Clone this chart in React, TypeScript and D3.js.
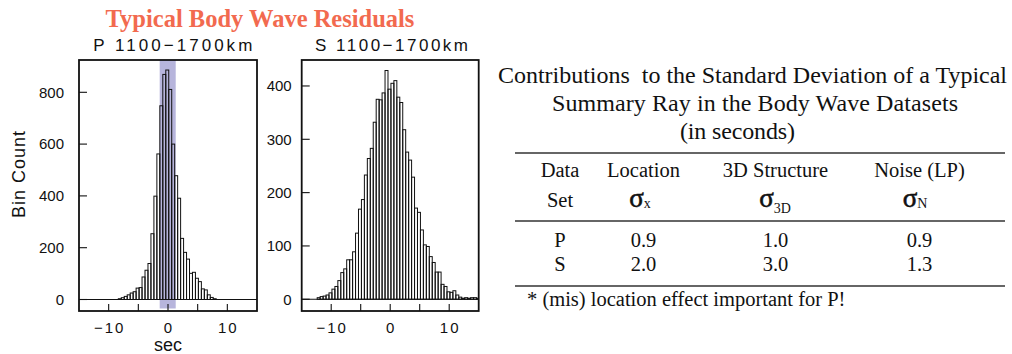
import React from "react";
import * as d3 from "d3";

// Histogram bins: 0.5 s wide, counts listed from the first bin's left edge
const BIN_WIDTH = 0.5;
const P_BIN_START = -8.375;
const P_COUNTS = [
  3, 7, 12, 18, 25, 30, 44, 46, 87, 113, 139, 254, 399, 562, 748, 869, 886,
  811, 600, 478, 391, 236, 182, 156, 101, 105, 82, 69, 41, 37, 18, 8, 3,
];
const S_BIN_START = -12.375;
const S_COUNTS = [
  3, 5, 6, 8, 12, 19, 24, 35, 50, 57, 74, 74, 89, 124, 169, 187, 233, 264, 283,
  332, 375, 374, 387, 429, 394, 405, 410, 379, 369, 318, 276, 261, 229, 171,
  163, 130, 102, 99, 80, 69, 51, 51, 28, 24, 14, 13, 16, 8, 4, 2, 3, 2, 3, 3, 2,
];
// mislocation band shaded on the P histogram (seconds)
const P_SHADE = [-1.4, 1.3];

const X_DOMAIN = [-15, 15];
const X_TICKS = [-10, -5, 0, 5, 10];
const X_TICK_LABELS = [-10, 0, 10];
const P_Y_TICKS = [0, 200, 400, 600, 800];
const S_Y_TICKS = [0, 100, 200, 300, 400];

// Table of standard-deviation contributions (seconds)
const TABLE_TITLE = [
  "Contributions  to the Standard Deviation of a Typical",
  "Summary Ray in the Body Wave Datasets",
  "(in seconds)",
];
const COLUMN_HEADS = ["Data", "Location", "3D Structure", "Noise (LP)"];
const SIGMA_SUBSCRIPTS = ["x", "3D", "N"];
const DATA_SETS = ["P", "S"];
const LOCATION = [0.9, 2.0];
const STRUCTURE_3D = [1.0, 3.0];
const NOISE_LP = [0.9, 1.3];
const FOOTNOTE = "* (mis) location effect important for P!";

const SANS = "'Liberation Sans', Arial, Helvetica, sans-serif";
const SERIF = "'Liberation Serif', 'Times New Roman', Times, serif";
const INK = "#111";

type HistProps = {
  id: string;
  left: number;
  right: number;
  top: number;
  bottom: number;
  yDomain: [number, number];
  counts: number[];
  binStart: number;
  yTicks: number[];
  labelGap: number;
  title: string;
  titleX: number;
  titleLen: number;
  shade?: number[];
  xTitle?: string;
  yTitle?: string;
};

function Histogram(p: HistProps) {
  const x = d3.scaleLinear().domain(X_DOMAIN).range([p.left, p.right]);
  const y = d3.scaleLinear().domain(p.yDomain).range([p.bottom, p.top]);
  const clip = `clip-${p.id}`;
  const bins = p.counts.map((c, i) => {
    const x0 = p.binStart + i * BIN_WIDTH;
    return { x0, x1: x0 + BIN_WIDTH, c };
  });
  const midX = (p.left + p.right) / 2;
  return (
    <g>
      <defs>
        <clipPath id={clip}>
          <rect x={p.left} y={p.top} width={p.right - p.left} height={p.bottom - p.top} />
        </clipPath>
      </defs>
      <text
        x={p.titleX}
        y={50.5}
        fontFamily={SANS}
        fontSize={17}
        fill={INK}
        textLength={p.titleLen}
        lengthAdjust="spacing"
      >
        {p.title}
      </text>
      <g clipPath={`url(#${clip})`}>
        {p.shade && (
          <rect
            x={x(p.shade[0])}
            y={p.top}
            width={x(p.shade[1]) - x(p.shade[0])}
            height={p.bottom - p.top - 2.5}
            fill="#b7b5dc"
          />
        )}
        <line x1={x(X_DOMAIN[0])} x2={x(X_DOMAIN[1])} y1={y(0)} y2={y(0)} stroke={INK} strokeWidth={1.1} />
        {bins.map((b, i) => (
          <rect
            key={i}
            x={x(b.x0)}
            y={y(b.c)}
            width={x(b.x1) - x(b.x0)}
            height={y(0) - y(b.c)}
            fill="none"
            stroke={INK}
            strokeWidth={1}
          />
        ))}
      </g>
      {X_TICKS.map((t) => (
        <line key={t} x1={x(t)} x2={x(t)} y1={p.bottom} y2={p.bottom - 7} stroke={INK} strokeWidth={1.1} />
      ))}
      {X_TICK_LABELS.map((t) => (
        <text
          key={t}
          x={x(t) + 1}
          y={332.5}
          textAnchor="middle"
          fontFamily={SANS}
          fontSize={15}
          letterSpacing={2}
          fill={INK}
        >
          {t < 0 ? `\u2212${Math.abs(t)}` : String(t)}
        </text>
      ))}
      {p.yTicks.map((t) => (
        <g key={t}>
          <line x1={p.left} x2={p.left + 8} y1={y(t)} y2={y(t)} stroke={INK} strokeWidth={1.1} />
          <text
            x={p.left - p.labelGap}
            y={y(t)}
            dy="0.36em"
            textAnchor="end"
            fontFamily={SANS}
            fontSize={15}
            fill={INK}
          >
            {t}
          </text>
        </g>
      ))}
      <rect
        x={p.left}
        y={p.top}
        width={p.right - p.left}
        height={p.bottom - p.top}
        fill="none"
        stroke={INK}
        strokeWidth={1.8}
      />
      {p.xTitle && (
        <text x={midX} y={351} textAnchor="middle" fontFamily={SANS} fontSize={18} fill={INK}>
          {p.xTitle}
        </text>
      )}
      {p.yTitle && (
        <text
          transform={`translate(25,174) rotate(-90)`}
          textAnchor="middle"
          fontFamily={SANS}
          fontSize={18}
          letterSpacing={1}
          fill={INK}
        >
          {p.yTitle}
        </text>
      )}
    </g>
  );
}

function SummaryTable() {
  const colX = [560, 643.5, 775.5, 919.5];
  const titleLines = [
    { x: 752.5, y: 83, len: 509 },
    { x: 755, y: 111, len: 406 },
    { x: 737.5, y: 139, len: 115 },
  ];
  const rules = [153, 221, 286];
  const rowY = [247, 271];
  const values = [LOCATION, STRUCTURE_3D, NOISE_LP];
  const subDy = [1, 6, 1];
  const sigmaX = [640, 775, 915];
  return (
    <g fontFamily={SERIF} fill={INK}>
      {TABLE_TITLE.map((line, i) => (
        <text
          key={i}
          x={titleLines[i].x}
          y={titleLines[i].y}
          textAnchor="middle"
          fontSize={24}
          textLength={titleLines[i].len}
          lengthAdjust="spacing"
          style={{ whiteSpace: "pre" }}
        >
          {line}
        </text>
      ))}
      {rules.map((r) => (
        <line key={r} x1={515} x2={1005} y1={r} y2={r} stroke="#333" strokeWidth={1.5} />
      ))}
      {COLUMN_HEADS.map((h, i) => (
        <text key={h} x={colX[i]} y={177} textAnchor="middle" fontSize={20.5}>
          {h}
        </text>
      ))}
      <text x={colX[0]} y={207} textAnchor="middle" fontSize={20.5}>
        Set
      </text>
      {SIGMA_SUBSCRIPTS.map((s, i) => (
        <text key={s} x={sigmaX[i]} y={207} textAnchor="middle">
          <tspan fontSize={27} stroke={INK} strokeWidth={0.6}>
            {"\u03c3"}
          </tspan>
          <tspan fontSize={14} dy={subDy[i]}>
            {s}
          </tspan>
        </text>
      ))}
      {DATA_SETS.map((d, r) => (
        <g key={d}>
          <text x={colX[0]} y={rowY[r]} textAnchor="middle" fontSize={20.5}>
            {d}
          </text>
          {values.map((v, c) => (
            <text key={c} x={colX[c + 1]} y={rowY[r]} textAnchor="middle" fontSize={20.5}>
              {v[r].toFixed(1)}
            </text>
          ))}
        </g>
      ))}
      <text x={527} y={306} fontSize={20.5}>
        {FOOTNOTE}
      </text>
    </g>
  );
}

export default function App() {
  return (
    <svg
      width={1012}
      height={354}
      viewBox="0 0 1012 354"
      style={{ position: "absolute", left: 0, top: 0, background: "#fff", display: "block" }}
    >
      <rect width={1012} height={354} fill="#fff" />
      <text
        x={260}
        y={27}
        textAnchor="middle"
        fontFamily={SERIF}
        fontWeight="bold"
        fontSize={24.5}
        fill="#f26a4f"
      >
        Typical Body Wave Residuals
      </text>
      <Histogram
        id="p"
        left={79}
        right={257}
        top={60}
        bottom={311}
        yDomain={[-44.4, 924.7]}
        counts={P_COUNTS}
        binStart={P_BIN_START}
        yTicks={P_Y_TICKS}
        labelGap={15}
        title={"P 1100\u22121700km"}
        titleX={93.3}
        titleLen={159}
        shade={P_SHADE}
        xTitle="sec"
        yTitle="Bin Count"
      />
      <Histogram
        id="s"
        left={301.7}
        right={478.7}
        top={60}
        bottom={311}
        yDomain={[-22, 448.7]}
        counts={S_COUNTS}
        binStart={S_BIN_START}
        yTicks={S_Y_TICKS}
        labelGap={10}
        title={"S 1100\u22121700km"}
        titleX={315}
        titleLen={153}
      />
      <SummaryTable />
    </svg>
  );
}
